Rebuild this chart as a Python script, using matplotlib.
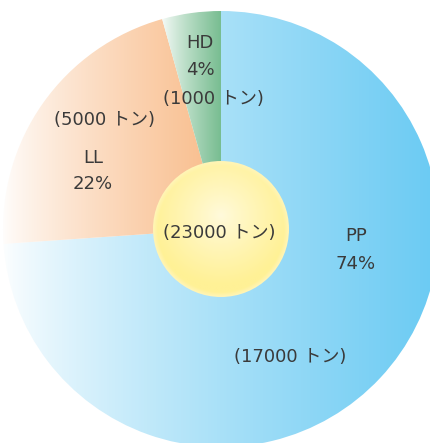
import numpy as np
import matplotlib
matplotlib.use("Agg")
import matplotlib.pyplot as plt
from matplotlib.colors import to_rgb
from matplotlib.patches import Circle

plt.rcParams['font.family'] = ['DejaVu Sans', 'Noto Sans CJK JP']

categories = ["PP", "LL", "HD"]
tons = [17000, 5000, 1000]
percents = ["74%", "22%", "4%"]
total = 23000
colors = ["#6ccbf3", "#f9c091", "#78bd91"]

W, H = 431, 443
fig = plt.figure(figsize=(W / 100, H / 100), dpi=100)
ax = fig.add_axes([0, 0, 1, 1])

cx, cy, R = 221, H - 229, 218
wedges, _ = ax.pie(tons, center=(cx, cy), radius=R, startangle=90,
                   counterclock=False, frame=True,
                   wedgeprops=dict(linewidth=0, edgecolor='none'))
ax.set_xlim(0, W)
ax.set_ylim(0, H)
ax.set_aspect('equal')
ax.axis('off')

# gradient spans (x0 -> x1), white to color
spans = [(0, 431), (0, 205), (160, 221)]
for w, c, (x0, x1) in zip(wedges, colors, spans):
    w.set_facecolor('none')
    rgb = np.array(to_rgb(c))
    xs = np.linspace(0, W, 600)
    t = np.clip((xs - x0) / (x1 - x0), 0, 1)
    t = t ** 0.8
    img = (1 - t)[:, None] * np.ones(3) + t[:, None] * rgb
    img = img[None, :, :]
    im = ax.imshow(img, extent=(0, W, 0, H), aspect='auto', zorder=1,
                   interpolation='bilinear')
    im.set_clip_path(w)

# center circle with radial gradient (highlight slightly above centre)
cr = 68
n = 300
yy, xx = np.mgrid[0:n, 0:n]
gx = (xx / (n - 1)) * 2 - 1
gy = (yy / (n - 1)) * 2 - 1
d = np.sqrt(gx ** 2 + (gy + 0.2) ** 2) / 1.2
d = np.clip(d, 0, 1)
inner = np.array(to_rgb("#fffadc"))
outer = np.array(to_rgb("#fff196"))
rim = np.array(to_rgb("#fff5b8"))
t = np.clip(d / 0.85, 0, 1)[..., None] ** 0.9
img = (1 - t) * inner + t * outer
r = np.sqrt(gx ** 2 + gy ** 2)[..., None]
rt = np.clip((r - 0.93) / 0.07, 0, 1)
img = (1 - rt) * img + rt * rim
circ = Circle((cx, cy), cr, facecolor='none', edgecolor='none')
ax.add_patch(circ)
im = ax.imshow(img, extent=(cx - cr, cx + cr, cy - cr, cy + cr), zorder=3,
               aspect='auto', interpolation='bilinear', origin='upper')
im.set_clip_path(circ)
ax.set_xlim(0, W)
ax.set_ylim(0, H)

tc = "#3a3a3a"
fs = 13

def T(x, y, s):
    ax.text(x, H - y, s, ha='center', va='center', fontsize=fs, color=tc, zorder=5)

T(200, 43, categories[2])
T(200, 70, percents[2])
T(213, 99, f"({tons[2]} トン)")
T(105, 120, f"({tons[1]} トン)")
T(93, 158, categories[1])
T(93, 184, percents[1])
T(219, 233, f"({total} トン)")
T(356, 236, categories[0])
T(356, 264, percents[0])
T(290, 357, f"({tons[0]} トン)")

fig.savefig("out.png", dpi=100)
